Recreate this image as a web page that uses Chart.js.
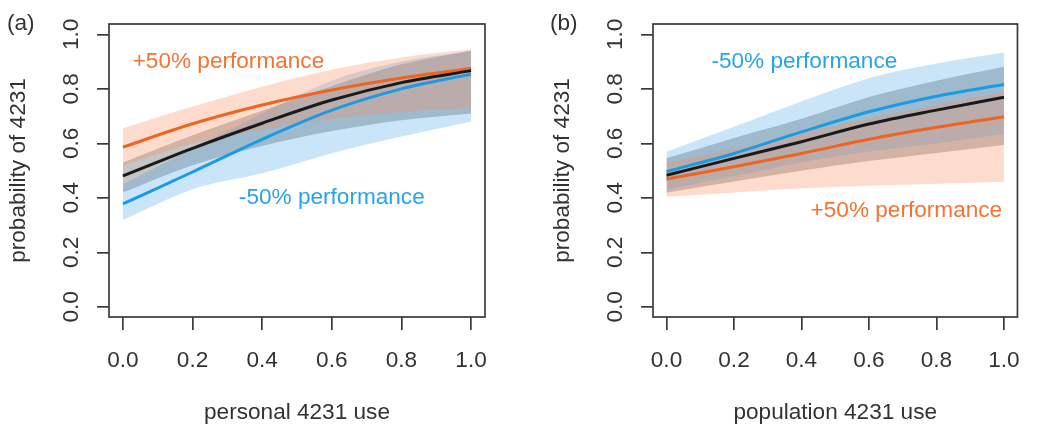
<!DOCTYPE html>
<html>
<head>
<meta charset="utf-8">
<script src="https://cdn.jsdelivr.net/npm/chart.js@4.4.1/dist/chart.umd.min.js"></script>
<style>
  html, body { margin: 0; padding: 0; background: #ffffff; }
  #wrap { position: relative; width: 1037px; height: 427px; overflow: hidden; }
  #boxA { position: absolute; left: 0; top: 0; width: 520px; height: 427px; }
  #boxB { position: absolute; left: 520px; top: 0; width: 517px; height: 427px; }
</style>
</head>
<body>
<div id="wrap">
  <div id="boxA"><canvas id="chartA" width="520" height="427"></canvas></div>
  <div id="boxB"><canvas id="chartB" width="517" height="427"></canvas></div>
</div>
<script>
// ---------- data ----------
const xValues = [0, 0.2, 0.4, 0.6, 0.8, 1.0];
const tickValues = [0, 0.2, 0.4, 0.6, 0.8, 1.0];

// panel (a): personal 4231 use
const aBlack     = [0.481, 0.582, 0.674, 0.759, 0.823, 0.867];
const aBlackHi   = [0.530, 0.630, 0.720, 0.810, 0.890, 0.940];
const aBlackLo   = [0.420, 0.520, 0.590, 0.645, 0.685, 0.710];
const aOrange    = [0.586, 0.672, 0.741, 0.796, 0.840, 0.875];
const aOrangeHi  = [0.655, 0.735, 0.808, 0.870, 0.915, 0.945];
const aOrangeLo  = [0.518, 0.600, 0.650, 0.690, 0.715, 0.730];
const aBlue      = [0.378, 0.495, 0.615, 0.722, 0.800, 0.854];
const aBlueHi    = [0.450, 0.580, 0.710, 0.830, 0.900, 0.940];
const aBlueLo    = [0.319, 0.432, 0.490, 0.564, 0.625, 0.680];

// panel (b): population 4231 use
const bBlack     = [0.483, 0.545, 0.606, 0.671, 0.722, 0.769];
const bBlackHi   = [0.545, 0.620, 0.690, 0.770, 0.830, 0.881];
const bBlackLo   = [0.419, 0.460, 0.500, 0.535, 0.565, 0.594];
const bOrange    = [0.469, 0.514, 0.563, 0.615, 0.659, 0.698];
const bOrangeHi  = [0.530, 0.580, 0.640, 0.690, 0.740, 0.790];
const bOrangeLo  = [0.404, 0.420, 0.435, 0.445, 0.452, 0.459];
const bBlue      = [0.497, 0.563, 0.642, 0.716, 0.773, 0.816];
const bBlueHi    = [0.569, 0.661, 0.754, 0.839, 0.893, 0.933];
const bBlueLo    = [0.430, 0.480, 0.530, 0.570, 0.600, 0.634];

// ---------- styles ----------
const FONT = '"Liberation Sans", Arial, Helvetica, sans-serif';
const FS = 22.6;
const AXIS = '#3a3a3a';
const TEXT = '#333333';
const C_BLACK = '#1a1a1a';
const C_ORANGE = '#ee6422';
const C_BLUE = '#1b9be6';
const F_ORANGE = 'rgba(248,140,90,0.30)';
const F_BLUE = 'rgba(40,150,225,0.25)';
const F_GRAY = 'rgba(90,90,90,0.35)';
const T_ORANGE = '#f27332';
const T_BLUE = '#26a4e8';

function pts(ys) { return xValues.map((x, i) => ({x: x, y: ys[i]})); }

function lineDs(ys, color) {
  return { data: pts(ys), borderColor: color, borderWidth: 3, pointRadius: 0,
           fill: false, cubicInterpolationMode: 'monotone', order: 0 };
}
function bandDs(ys, color, fillTarget) {
  return { data: pts(ys), borderWidth: 0, borderColor: 'rgba(0,0,0,0)', pointRadius: 0,
           backgroundColor: color, fill: fillTarget, cubicInterpolationMode: 'monotone', order: 1 };
}

const boxPlugin = {
  id: 'rbox',
  afterDraw(chart, args, opts) {
    const ctx = chart.ctx, ca = chart.chartArea;
    ctx.save();
    ctx.strokeStyle = AXIS;
    ctx.lineWidth = 1.7;
    ctx.strokeRect(ca.left, ca.top, ca.right - ca.left, ca.bottom - ca.top);
    // annotations
    const xs = chart.scales.x, ys = chart.scales.y;
    ctx.font = FS + 'px ' + FONT;
    ctx.textBaseline = 'middle';
    ctx.textAlign = 'left';
    (opts.notes || []).forEach(n => {
      ctx.fillStyle = n.color;
      ctx.fillText(n.text, xs.getPixelForValue(n.x), ys.getPixelForValue(n.y));
    });
    if (opts.panel) {
      ctx.fillStyle = TEXT;
      ctx.fillText(opts.panel.text, opts.panel.px, opts.panel.py);
    }
    ctx.restore();
  }
};

function makeChart(id, series, xTitle, padLeft, padRight, notes, panel) {
  const [blk, blkHi, blkLo, org, orgHi, orgLo, blu, bluHi, bluLo] = series;
  return new Chart(document.getElementById(id), {
    type: 'line',
    data: {
      datasets: [
        lineDs(blk, C_BLACK),
        lineDs(org, C_ORANGE),
        lineDs(blu, C_BLUE),
        bandDs(orgHi, F_ORANGE, '+1'),
        bandDs(orgLo, 'rgba(0,0,0,0)', false),
        bandDs(bluHi, F_BLUE, '+1'),
        bandDs(bluLo, 'rgba(0,0,0,0)', false),
        bandDs(blkHi, F_GRAY, '+1'),
        bandDs(blkLo, 'rgba(0,0,0,0)', false)
      ]
    },
    options: {
      responsive: false,
      animation: false,
      events: [],
      layout: { padding: { top: 24, right: padRight, left: padLeft, bottom: 0 } },
      plugins: {
        legend: { display: false },
        tooltip: { enabled: false },
        rbox: { notes: notes, panel: panel }
      },
      scales: {
        x: {
          type: 'linear', min: -0.04, max: 1.04,
          afterBuildTicks: s => { s.ticks = tickValues.map(v => ({value: v})); },
          afterFit: s => { s.height = 110; },
          border: { display: false },
          grid: { drawOnChartArea: false, drawTicks: true, tickLength: 13, color: AXIS, lineWidth: 1.7 },
          ticks: { autoSkip: false, maxRotation: 0, minRotation: 0, padding: 17, color: TEXT,
                   font: { family: FONT, size: FS }, callback: v => v.toFixed(1) },
          title: { display: true, text: xTitle, color: TEXT, font: { family: FONT, size: FS },
                   padding: { top: 0, bottom: 1 } }
        },
        y: {
          type: 'linear', min: -0.037, max: 1.038,
          afterBuildTicks: s => { s.ticks = tickValues.map(v => ({value: v})); },
          afterFit: s => { s.width = 109; },
          border: { display: false },
          grid: { drawOnChartArea: false, drawTicks: true, tickLength: 12, color: AXIS, lineWidth: 1.7 },
          ticks: { autoSkip: false, minRotation: 90, maxRotation: 90, crossAlign: 'center', padding: 10,
                   color: TEXT, font: { family: FONT, size: FS }, callback: v => v.toFixed(1) },
          title: { display: true, text: 'probability of 4231', color: TEXT,
                   font: { family: FONT, size: FS }, padding: { top: 5, bottom: 0 } }
        }
      }
    },
    plugins: [boxPlugin]
  });
}

makeChart('chartA',
  [aBlack, aBlackHi, aBlackLo, aOrange, aOrangeHi, aOrangeLo, aBlue, aBlueHi, aBlueLo],
  'personal 4231 use', 0, 35,
  [ { text: '+50% performance', x: 0.028, y: 0.898, color: T_ORANGE },
    { text: '-50% performance', x: 0.333, y: 0.400, color: T_BLUE } ],
  { text: '(a)', px: 7, py: 24 });

makeChart('chartB',
  [bBlack, bBlackHi, bBlackLo, bOrange, bOrangeHi, bOrangeLo, bBlue, bBlueHi, bBlueLo],
  'population 4231 use', 24, 9,
  [ { text: '-50% performance', x: 0.133, y: 0.899, color: T_BLUE },
    { text: '+50% performance', x: 0.427, y: 0.352, color: T_ORANGE } ],
  { text: '(b)', px: 30, py: 24 });
</script>
</body>
</html>
